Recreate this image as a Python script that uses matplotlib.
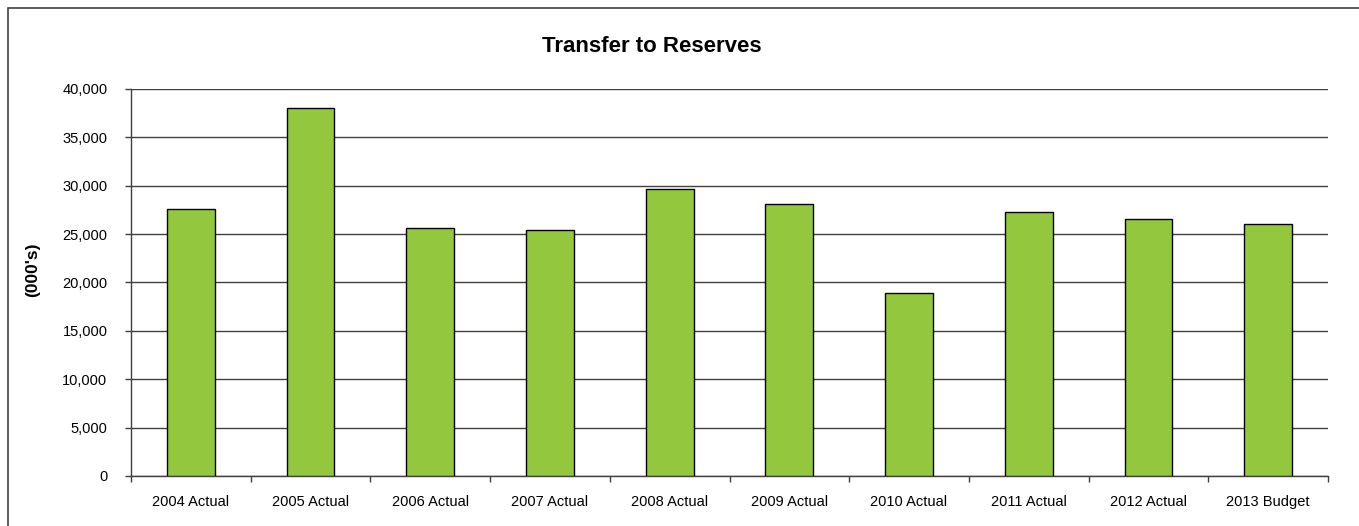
import matplotlib
matplotlib.use("Agg")
from matplotlib import pyplot as plt
from matplotlib.patches import Rectangle
from matplotlib.ticker import FuncFormatter, FixedLocator
import numpy as np

plt.rcParams['font.family'] = ['Liberation Sans', 'DejaVu Sans']

# categories and values (000's)
years = ['2004 Actual', '2005 Actual', '2006 Actual', '2007 Actual', '2008 Actual',
         '2009 Actual', '2010 Actual', '2011 Actual', '2012 Actual', '2013 Budget']
transfers = [27600, 38000, 25650, 25450, 29700, 28150, 18900, 27300, 26600, 26050]

fig = plt.figure(figsize=(13.59, 5.26), dpi=100)
ax = fig.add_axes([0.0964, 0.0951, 0.8808, 0.7357])

x = np.arange(len(years))
ax.bar(x, transfers, width=0.4, color='#93C83E', edgecolor='black', linewidth=1, zorder=3)

ax.set_xlim(-0.5, len(years) - 0.5)
ax.set_ylim(0, 40000)
ax.set_yticks(np.arange(0, 40001, 5000))
ax.yaxis.set_major_formatter(FuncFormatter(lambda v, p: f'{int(v):,}'))
ax.yaxis.grid(True, color='#404040', linewidth=1)
ax.set_axisbelow(True)

# category labels centred, tick marks on the boundaries
ax.set_xticks(x)
ax.set_xticklabels(years, fontsize=10.5)
ax.tick_params(axis='x', which='major', length=0, pad=14)
ax.xaxis.set_minor_locator(FixedLocator(np.arange(-0.5, len(years), 1)))
ax.tick_params(axis='x', which='minor', length=4, width=1, direction='out', color='#404040')
ax.tick_params(axis='y', length=4, width=1, labelsize=10.5, pad=13, color='#404040')

for s in ['top', 'right']:
    ax.spines[s].set_visible(False)
for s in ['left', 'bottom']:
    ax.spines[s].set_color('#404040')
    ax.spines[s].set_linewidth(1)

fig.text(0.4796, 0.9125, 'Transfer to Reserves', ha='center', va='center',
         fontsize=16, fontweight='bold')
fig.text(0.0243, 0.4867, "(000's)", ha='center', va='center', rotation=90,
         fontsize=12.5, fontweight='bold')

# outer chart frame
fig.patches.append(Rectangle((0.0059, -0.1), 1.2, 1.0848, transform=fig.transFigure,
                             fill=False, edgecolor='#404040', linewidth=1.2, clip_on=False))

fig.savefig('out.png', dpi=100)
